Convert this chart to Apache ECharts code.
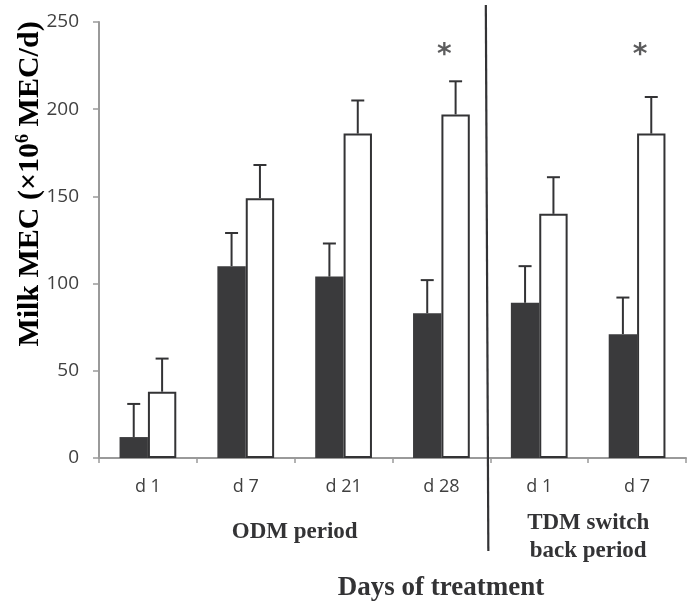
<!DOCTYPE html>
<html><head><meta charset="utf-8">
<script src="https://cdn.jsdelivr.net/npm/echarts@6/dist/echarts.min.js"></script>
<style>html,body{margin:0;padding:0;background:#fff}#c{width:688px;height:603px}</style>
</head><body><div id="c"></div>
<script>
const days = ['d 1', 'd 7', 'd 21', 'd 28', 'd 1', 'd 7'];
const darkMean = [12, 110, 104, 83, 89, 71];
const darkErr = [19, 19, 19, 19, 21, 21];
const whiteMean = [38, 149, 186, 197, 140, 186];
const whiteErr = [19, 19, 19, 19, 21, 21];
const significant = [false, false, false, true, false, true];
const starLevel = 236;
const periods = [
  { name: 'ODM period', from: 0, to: 3 },
  { name: 'TDM switch\nback period', from: 4, to: 5 }
];
const yTitle = '{a|Milk MEC (×10}{s|6}{a| MEC/d)}';
const xTitle = 'Days of treatment';

const INK = '#333335';
const BAR_W = 0.29;

const chart = echarts.init(document.getElementById('c'));

function errSeries(means, errs, side) {
  return {
    type: 'custom',
    z: 5,
    data: means.map((m, i) => [i, m, errs[i]]),
    renderItem: function (params, api) {
      const i = api.value(0);
      const band = api.size([1, 0])[0];
      const base = api.coord([i, api.value(1)]);
      const top = api.coord([i, api.value(1) + api.value(2)]);
      const x = base[0] + side * band * BAR_W / 2;
      const cap = 6.5;
      return {
        type: 'group',
        children: [
          { type: 'line', shape: { x1: x, y1: base[1], x2: x, y2: top[1] }, style: { stroke: INK, lineWidth: 2 } },
          { type: 'line', shape: { x1: x - cap, y1: top[1], x2: x + cap, y2: top[1] }, style: { stroke: INK, lineWidth: 2 } }
        ]
      };
    }
  };
}

chart.setOption({
  animation: false,
  grid: { left: 99, right: 2, top: 22, bottom: 145, containLabel: false },
  xAxis: {
    type: 'category',
    data: days,
    axisLine: { lineStyle: { color: '#9a9a9a', width: 2 } },
    axisTick: { show: true, length: 5, lineStyle: { color: '#9a9a9a', width: 1.5 } },
    axisLabel: { color: '#404040', fontFamily: 'Open Sans', fontSize: 18, margin: 20 }
  },
  yAxis: {
    type: 'value',
    min: 0, max: 250, interval: 50,
    splitLine: { show: false },
    axisLine: { show: true, lineStyle: { color: '#9a9a9a', width: 2 } },
    axisTick: { show: true, length: 6, lineStyle: { color: '#9a9a9a', width: 1.5 } },
    axisLabel: { color: '#404040', fontFamily: 'Open Sans', fontSize: 19, margin: 20 }
  },
  series: [
    {
      type: 'bar', data: darkMean, barWidth: (BAR_W * 100) + '%', barGap: '0%',
      itemStyle: { color: '#3a3a3c' }
    },
    {
      type: 'bar', data: whiteMean, barWidth: (BAR_W * 100) + '%', barGap: '0%',
      itemStyle: { color: '#ffffff', borderColor: INK, borderWidth: 2 }
    },
    errSeries(darkMean, darkErr, -1),
    errSeries(whiteMean, whiteErr, 1),
    {
      type: 'scatter',
      symbolSize: 0,
      data: significant.map((s, i) => s ? [i, starLevel] : null).filter(d => d),
      label: {
        show: true, formatter: '*', position: 'inside', offset: [3, 9],
        color: INK, fontFamily: 'DejaVu Sans', fontWeight: 'bold', fontSize: 28
      },
      z: 6
    }
  ]
});

function px(i, v) { return chart.convertToPixel({ gridIndex: 0 }, [i, v]); }

const graphics = [];
const xDiv = (px(3, 0)[0] + px(4, 0)[0]) / 2 - 3;
graphics.push({
  type: 'line', z: 10,
  shape: { x1: xDiv - 1.5, y1: 5, x2: xDiv + 1, y2: 551 },
  style: { stroke: INK, lineWidth: 2.2 }
});
periods.forEach((p, k) => {
  const cx = (px(p.from, 0)[0] + px(p.to, 0)[0]) / 2;
  graphics.push({
    type: 'text', z: 10,
    x: cx, y: k === 0 ? 532 : 537,
    style: {
      text: p.name, align: 'center', verticalAlign: 'middle',
      font: 'bold 23px "Liberation Serif"', fill: INK, lineHeight: 28
    }
  });
});
graphics.push({
  type: 'text', z: 10, x: 441, y: 588,
  style: { text: xTitle, align: 'center', verticalAlign: 'middle', font: 'bold 27px "Liberation Serif"', fill: INK }
});
graphics.push({
  type: 'text', z: 10, x: 30, y: 184, rotation: Math.PI / 2,
  style: {
    text: yTitle, align: 'center', verticalAlign: 'middle',
    rich: {
      a: { fontFamily: 'Liberation Serif', fontWeight: 'bold', fontSize: 30, color: INK },
      s: { fontFamily: 'Liberation Serif', fontWeight: 'bold', fontSize: 18, color: INK, verticalAlign: 'top', padding: [0, 0, 13, 0] }
    }
  }
});
chart.setOption({ graphic: graphics });
</script>
</body></html>
